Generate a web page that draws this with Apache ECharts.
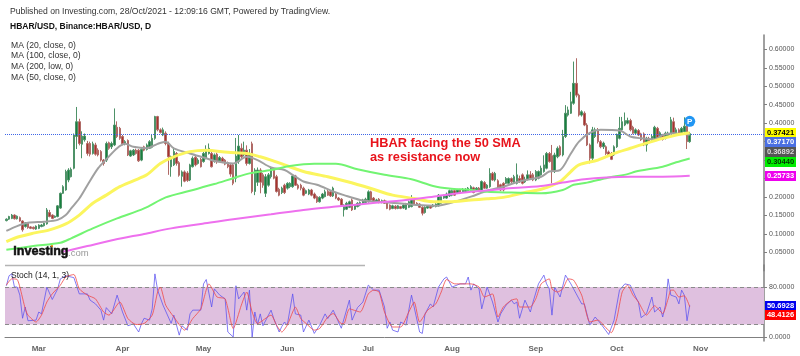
<!DOCTYPE html>
<html>
<head>
<meta charset="utf-8">
<style>html,body{margin:0;padding:0;background:#fff}#main{width:800px;height:356px}</style>
<script src="https://cdn.jsdelivr.net/npm/echarts@6/dist/echarts.min.js"></script>
</head>
<body>
<div id="main"></div>
<script>
// daily candles from 17 Feb 2021: [open, close, low, high]
var candles = [
[.136,.140,.134,.142],[.140,.147,.138,.149],[.142,.151,.140,.154],[.151,.141,.139,.153],[.141,.148,.139,.150],
[.144,.135,.133,.147],[.135,.111,.106,.137],[.120,.130,.117,.132],[.129,.117,.114,.131],[.119,.115,.113,.121],
[.118,.114,.112,.120],[.113,.121,.111,.123],[.115,.124,.113,.126],[.120,.124,.118,.127],[.122,.129,.120,.131],
[.127,.165,.125,.170],[.158,.147,.145,.165],[.151,.142,.140,.153],[.145,.148,.143,.150],[.147,.176,.145,.178],
[.170,.210,.168,.212],[.210,.228,.208,.232],[.219,.269,.217,.274],[.246,.273,.240,.278],[.255,.275,.253,.280],
[.278,.368,.275,.372],[.364,.404,.330,.444],[.404,.345,.340,.412],[.343,.365,.305,.378],[.355,.365,.350,.372],
[.345,.318,.312,.352],[.345,.316,.310,.350],[.318,.344,.315,.350],[.341,.316,.312,.347],[.327,.314,.310,.332],
[.323,.300,.296,.327],[.300,.291,.285,.303],[.300,.345,.295,.350],[.347,.332,.328,.350],[.336,.345,.330,.350],
[.341,.395,.338,.440],[.389,.364,.360,.405],[.386,.359,.355,.390],[.364,.344,.340,.368],[.344,.350,.340,.354],
[.353,.314,.311,.356],[.311,.325,.309,.328],[.314,.327,.311,.330],[.327,.318,.315,.331],[.327,.298,.295,.330],
[.300,.329,.297,.332],[.336,.327,.324,.339],[.329,.341,.326,.345],[.332,.350,.330,.354],[.335,.359,.332,.368],
[.359,.418,.355,.420],[.418,.382,.378,.420],[.382,.375,.372,.386],[.368,.382,.365,.388],[.373,.345,.340,.378],
[.345,.309,.260,.350],[.282,.309,.255,.312],[.287,.323,.284,.335],[.318,.291,.285,.322],[.293,.259,.255,.297],
[.256,.268,.228,.272],[.268,.243,.240,.272],[.265,.245,.241,.270],[.246,.287,.243,.290],[.282,.305,.280,.310],
[.308,.287,.283,.312],[.291,.300,.288,.305],[.302,.282,.280,.306],[.296,.318,.293,.322],[.305,.329,.302,.340],
[.318,.332,.315,.345],[.318,.282,.280,.322],[.296,.314,.293,.318],[.316,.296,.290,.320],[.298,.307,.295,.311],
[.305,.296,.292,.309],[.300,.289,.286,.303],[.293,.282,.278,.296],[.287,.262,.255,.290],[.287,.237,.232,.290],
[.251,.311,.240,.360],[.296,.338,.290,.368],[.332,.309,.305,.345],[.314,.327,.310,.350],[.327,.291,.285,.340],
[.291,.318,.288,.330],[.344,.215,.210,.350],[.215,.273,.205,.278],[.240,.273,.230,.280],[.273,.240,.210,.278],
[.260,.232,.225,.265],[.210,.255,.200,.262],[.232,.260,.228,.265],[.255,.278,.250,.282],[.273,.251,.248,.278],
[.255,.215,.212,.260],[.221,.205,.202,.225],[.212,.224,.208,.228],[.232,.212,.208,.236],[.224,.237,.220,.240],
[.228,.237,.224,.240],[.228,.257,.225,.260],[.257,.232,.230,.260],[.232,.224,.220,.236],[.232,.224,.218,.236],
[.224,.205,.202,.228],[.210,.217,.208,.220],[.208,.219,.205,.222],[.219,.205,.202,.222],[.208,.197,.194,.212],
[.201,.187,.184,.204],[.187,.199,.185,.202],[.197,.208,.194,.211],[.201,.214,.199,.220],[.215,.205,.203,.219],
[.214,.203,.200,.218],[.203,.224,.200,.228],[.208,.197,.194,.212],[.197,.192,.189,.200],[.194,.178,.175,.197],
[.165,.178,.147,.180],[.167,.183,.165,.187],[.172,.187,.170,.190],[.192,.165,.162,.196],[.167,.178,.165,.181],
[.174,.183,.172,.186],[.178,.185,.175,.188],[.183,.192,.180,.195],[.185,.194,.183,.198],[.187,.214,.185,.218],
[.214,.192,.190,.217],[.197,.187,.184,.200],[.187,.192,.185,.195],[.194,.185,.183,.197],[.185,.190,.183,.193],
[.190,.183,.181,.193],[.187,.169,.167,.190],[.178,.167,.164,.180],[.169,.176,.167,.179],[.175,.169,.166,.178],
[.169,.176,.167,.178],[.174,.169,.167,.176],[.170,.178,.168,.180],[.167,.181,.165,.184],[.172,.187,.170,.190],
[.174,.197,.172,.205],[.192,.181,.178,.195],[.183,.178,.176,.186],[.181,.172,.170,.183],[.172,.156,.150,.175],
[.158,.172,.155,.175],[.170,.176,.168,.178],[.176,.170,.168,.178],[.174,.178,.172,.181],[.174,.181,.172,.183],
[.176,.205,.174,.208],[.183,.201,.181,.205],[.197,.203,.195,.206],[.197,.208,.195,.212],[.203,.217,.200,.220],
[.205,.217,.202,.220],[.217,.205,.203,.220],[.210,.219,.208,.222],[.219,.210,.208,.222],[.214,.221,.212,.224],
[.215,.221,.213,.224],[.217,.224,.215,.227],[.217,.228,.215,.232],[.225,.212,.210,.228],[.217,.224,.215,.227],
[.224,.217,.215,.227],[.217,.242,.215,.245],[.239,.224,.222,.243],[.224,.232,.222,.235],[.228,.264,.225,.278],
[.264,.246,.244,.268],[.246,.264,.242,.268],[.244,.224,.220,.248],[.233,.219,.216,.236],[.237,.219,.215,.240],
[.237,.250,.235,.254],[.237,.250,.234,.253],[.250,.241,.238,.253],[.240,.255,.237,.260],[.237,.260,.234,.291],
[.250,.241,.238,.258],[.260,.237,.234,.264],[.241,.248,.238,.255],[.248,.260,.245,.272],[.260,.251,.248,.270],
[.260,.246,.243,.265],[.246,.269,.243,.273],[.251,.269,.248,.272],[.260,.278,.258,.285],[.269,.287,.266,.313],
[.278,.318,.275,.322],[.318,.296,.293,.322],[.312,.269,.237,.341],[.269,.314,.265,.320],[.309,.332,.305,.337],
[.336,.314,.310,.340],[.314,.364,.310,.382],[.364,.427,.360,.449],[.422,.436,.418,.445],[.427,.458,.425,.485],
[.454,.508,.450,.567],[.508,.476,.470,.576],[.476,.422,.418,.480],[.422,.431,.418,.435],[.427,.395,.392,.432],
[.395,.341,.338,.400],[.341,.305,.291,.345],[.305,.382,.300,.390],[.364,.382,.360,.388],[.383,.350,.345,.387],
[.350,.336,.332,.354],[.336,.346,.330,.350],[.336,.318,.314,.340],[.322,.313,.310,.326],[.318,.302,.300,.322],
[.314,.336,.311,.340],[.336,.368,.333,.372],[.359,.386,.356,.417],[.382,.404,.379,.417],[.395,.407,.392,.429],
[.400,.407,.397,.415],[.407,.382,.378,.412],[.389,.373,.370,.393],[.373,.382,.370,.386],[.380,.368,.365,.384],
[.371,.355,.352,.374],[.371,.341,.338,.375],[.341,.359,.323,.363],[.359,.347,.344,.363],[.355,.364,.352,.368],
[.359,.389,.356,.393],[.386,.359,.356,.390],[.359,.374,.356,.378],[.367,.356,.353,.371],[.359,.373,.356,.377],
[.364,.373,.361,.377],[.373,.409,.370,.417],[.404,.373,.370,.415],[.373,.382,.370,.388],[.382,.373,.370,.386],
[.373,.386,.370,.390],[.377,.392,.374,.416],[.392,.350,.330,.410],[.350,.3717,.347,.376]
];

// moving averages, read at the bends only: [day index, price]
var ma20 = [[0,.108],[4,.121],[8,.130],[14,.133],[19,.138],[22,.151],[24,.169],[27,.196],[30,.232],[34,.278],[37,.302],[41,.332],[44,.344],[47,.336],[52,.332],[56,.344],[59,.350],[62,.332],[68,.318],[74,.305],[78,.296],[84,.291],[89,.309],[93,.300],[98,.280],[103,.273],[106,.260],[110,.242],[115,.233],[121,.215],[125,.205],[131,.192],[137,.187],[145,.183],[152,.178],[159,.176],[164,.183],[172,.201],[178,.217],[184,.228],[190,.242],[198,.255],[201,.269],[205,.273],[209,.318],[212,.350],[216,.374],[220,.382],[227,.380],[231,.364],[235,.359],[240,.356],[243,.368],[247,.373],[253,.36892]];
var ma50 = [[0,.079],[4,.091],[10,.102],[16,.111],[22,.127],[27,.151],[32,.183],[37,.205],[42,.228],[47,.244],[52,.260],[57,.291],[62,.309],[68,.323],[74,.327],[82,.321],[89,.318],[94,.309],[98,.300],[103,.287],[110,.269],[119,.255],[126,.242],[135,.223],[143,.205],[151,.196],[158,.187],[164,.187],[172,.192],[178,.195],[184,.199],[192,.212],[198,.221],[205,.242],[209,.269],[212,.287],[219,.300],[225,.318],[231,.332],[237,.346],[243,.359],[248,.368],[253,.37421]];
var ma100 = [[0,.057],[10,.067],[20,.076],[24,.088],[32,.115],[41,.142],[51,.169],[59,.199],[68,.217],[77,.235],[84,.251],[90,.264],[98,.273],[105,.284],[114,.290],[122,.290],[130,.275],[140,.260],[150,.248],[158,.230],[164,.223],[172,.219],[178,.214],[187,.212],[198,.210],[206,.219],[210,.233],[215,.239],[222,.251],[230,.262],[233,.269],[243,.282],[248,.294],[253,.3044]];
var ma200 = [[21,.052],[23,.055],[30,.067],[40,.084],[51,.100],[61,.115],[72,.127],[84,.140],[98,.153],[110,.165],[122,.174],[135,.183],[148,.192],[160,.203],[172,.214],[184,.222],[198,.230],[206,.239],[214,.248],[222,.253],[231,.255],[243,.255],[253,.25733]];

// stochastic, read at the bends: [day index, value]
var stochK = [[0,82],[1,98],[2,101],[3,80],[4,80],[5,67],[6,30],[7,48],[8,26],[11,27],[12,40],[13,37],[15,80],[17,60],[19,77],[20,93],[22,98],[25,95],[27,69],[30,69],[31,59],[33,53],[35,43],[36,27],[37,47],[39,37],[41,67],[43,40],[45,18],[47,21],[49,8],[50,21],[51,30],[53,27],[54,45],[55,101],[56,75],[58,51],[61,22],[62,35],[64,3],[65,18],[67,11],[68,37],[69,43],[72,43],[73,85],[74,92],[76,48],[77,77],[79,67],[81,61],[82,8],[84,0],[85,82],[86,61],[88,72],[89,43],[90,75],[91,0],[92,40],[93,20],[94,37],[95,18],[98,43],[99,29.5],[101,8],[102,17],[103,24],[104,19],[106,69],[107,37],[109,35],[110,8],[112,27],[114,5.7],[116,19],[118,37],[119,29.5],[121,43],[124,14],[127,59],[128,27],[130,47],[132,56],[134,83],[136,75],[138,75],[140,48],[141,14],[142,24],[143,11],[145,8],[146,24],[148,19],[150,67],[153,8],[154,5.7],[155,37],[157,53],[158,48],[160,80],[162,93],[163,96],[165,80],[168,85],[170,85],[171,96],[172,75],[173,85],[175,77],[176,45],[178,80],[180,56],[182,24],[183,37],[185,51],[187,59],[188,53],[189,56],[190,30],[192,59],[194,40],[195,56],[197,85],[199,99],[200,85],[201,77],[202,35],[203,80],[205,64],[207,99],[209,85],[211,69],[213,53],[214,53],[216,19],[218,32],[220,21.6],[223,4],[225,27],[227,75],[229,85],[231,83],[233,64],[234,56],[235,31],[237,37.5],[239,64],[240,40],[242,48],[243,32],[244,51],[245,93],[246,67],[248,64],[249,53],[250,75],[251,67],[252,26],[253,50.69]];
var stochD = [[0,83],[2,93],[4,92],[5,80],[7,45],[8,35],[11,24],[13,35],[15,56],[17,69],[20,83],[22,96],[25,100],[27,77],[30,67],[33,61],[36,40],[38,35],[42,56],[45,29.5],[48,20],[51,21.6],[54,35],[56,72],[57,80],[59,51],[62,32],[66,11],[69,29.5],[72,45],[75,85],[78,64],[81,61],[84,13.6],[87,51],[89,72],[91,40],[93,21.6],[98,35],[100,19],[102,8],[104,19],[106,40],[107,48],[109,29.5],[111,21.6],[114,11],[116,13.6],[119,32],[121,37.5],[124,21.6],[125,21.6],[127,45],[131,40],[134,69],[136,75],[138,72],[140,40],[143,16],[146,16],[149,40],[151,56],[153,24],[156,43],[159,53],[161,72],[163,92],[166,85],[169,85],[172,85],[175,80],[177,64],[180,69],[182,32],[184,48],[187,59],[189,61],[190,48],[193,48],[194,48],[196,61],[198,85],[201,93],[202,77],[204,72],[206,77],[208,93],[210,91],[213,67],[214,51],[216,24],[219,27],[222,14.7],[224,7],[226,29.5],[228,72],[230,83],[232,67],[234,56],[237,35],[240,50],[243,37.5],[245,61],[246,75],[247,75],[249,64],[251,66],[253,48.41]];

var lastPrice = 0.37421;
var stochBand = [20, 80];
var tagText = ['0.37421', '0.37170', '0.36892', '0.30440', '0.25733', '50.6928', '48.4126'];
var tagBack = ['#ffff00', '#4a6fe3', '#555555', '#00ee00', '#ee00ee', '#0000ee', '#ff0000'];
var tagFore = ['#000000', '#ffffff', '#dddddd', '#003300', '#ffffff', '#ffffff', '#ffffff'];
var tagMid = [133, 142, 152, 162, 176, 306, 315];
var maLabels = ['MA (20, close, 0)', 'MA (100, close, 0)', 'MA (200, low, 0)', 'MA (50, close, 0)'];

var monthNames = ['Jan', 'Feb', 'Mar', 'Apr', 'May', 'Jun', 'Jul', 'Aug', 'Sep', 'Oct', 'Nov', 'Dec'];
var days = [];
for (var d = 0; d < 281; d++) {
  var day = new Date(Date.UTC(2021, 1, 17 + d));
  days.push(day.getUTCDate() + ' ' + monthNames[day.getUTCMonth()]);
}
function isFirst(i, name) { return name.indexOf('1 ') === 0; }

var font = '"Liberation Sans", Arial, sans-serif';
var axisGray = '#808080';

var graphics = [
  { type: 'text', left: 10, top: 7, style: { text: 'Published on Investing.com, 28/Oct/2021 - 12:09:16 GMT, Powered by TradingView.', font: '8.6px ' + font, fill: '#333' } },
  { type: 'text', left: 10, top: 22, style: { text: 'HBAR/USD, Binance:HBAR/USD, D', font: 'bold 8.5px ' + font, fill: '#111' } },
  { type: 'text', left: 370, top: 136.5, z: 20, style: { text: 'HBAR facing the 50 SMA', font: 'bold 12.8px ' + font, fill: '#e8141c' } },
  { type: 'text', left: 370, top: 151, z: 20, style: { text: 'as resistance now', font: 'bold 12.8px ' + font, fill: '#e8141c' } },
  { type: 'text', left: 13, top: 245, z: 20, style: { text: 'Investing', font: 'bold 12.6px ' + font, fill: '#111', stroke: '#111', lineWidth: 0.5 } },
  { type: 'text', left: 68, top: 248, z: 20, style: { text: '.com', font: '9.5px ' + font, fill: '#999' } },
  { type: 'circle', z: 21, shape: { cx: 52, cy: 246, r: 1 }, style: { fill: '#f08a00' } },
  { type: 'line', z: 20, shape: { x1: 5, y1: 265.5, x2: 365, y2: 265.5 }, style: { stroke: '#b4b4b4', lineWidth: 1.5 } },
  { type: 'text', left: 11, top: 271.5, z: 20, style: { text: 'Stoch (14, 1, 3)', font: '8.5px ' + font, fill: '#222' } }
];
maLabels.forEach(function (t, i) {
  graphics.push({ type: 'text', left: 11, top: 41 + i * 10.6, style: { text: t, font: '8.6px ' + font, fill: '#333' } });
});
tagText.forEach(function (t, i) {
  graphics.push({ type: 'rect', z: 30, shape: { x: 765, y: tagMid[i] - 5, width: 31, height: 10 }, style: { fill: tagBack[i] } });
  graphics.push({ type: 'text', z: 31, x: 780.5, y: tagMid[i], style: { text: t, font: 'bold 7.5px ' + font, fill: tagFore[i], align: 'center', verticalAlign: 'middle' } });
});

var myChart = echarts.init(document.getElementById('main'), null, { renderer: 'canvas' });

function maSeries(data, color, width) {
  return {
    type: 'line', xAxisIndex: 0, yAxisIndex: 0, data: data, showSymbol: false, smooth: 0.3,
    lineStyle: { color: color, width: width }, z: 5, silent: true
  };
}

var option = {
  animation: false,
  backgroundColor: '#fff',
  graphic: graphics,
  grid: [
    { left: 5, right: 36, top: 35, height: 235.8 },
    { left: 5, right: 36, top: 265, height: 76 }
  ],
  xAxis: [
    { type: 'category', gridIndex: 0, data: days, show: false },
    {
      type: 'category', gridIndex: 1, data: days,
      axisLine: { lineStyle: { color: axisGray, width: 1 } },
      axisTick: { interval: isFirst, alignWithLabel: true, length: 3, lineStyle: { color: axisGray } },
      axisLabel: {
        interval: isFirst, margin: 4, fontSize: 8, fontFamily: font, color: '#666', fontWeight: 'bold',
        formatter: function (v) { return v.split(' ')[1]; }
      }
    }
  ],
  yAxis: [
    {
      type: 'value', gridIndex: 0, position: 'right', min: 0, max: 0.639, interval: 0.05,
      splitLine: { show: false },
      axisLine: { show: true, onZero: false, lineStyle: { color: axisGray, width: 1.5 } },
      axisTick: { show: true, length: 3, lineStyle: { color: axisGray } },
      axisLabel: { showMinLabel: false, showMaxLabel: false, margin: 5, fontSize: 7, fontFamily: font, color: '#555', formatter: function (v) { return v.toFixed(5); } }
    },
    {
      type: 'value', gridIndex: 1, position: 'right', min: -6.4, max: 115.2,
      splitLine: { show: false },
      axisLine: { show: true, onZero: false, lineStyle: { color: axisGray, width: 1.5 } },
      axisTick: { show: true, length: 3, customValues: [0, 80], lineStyle: { color: axisGray } },
      axisLabel: { customValues: [0, 80], margin: 5, fontSize: 7, fontFamily: font, color: '#555', formatter: function (v) { return v.toFixed(4); } }
    }
  ],
  series: [
    {
      type: 'candlestick', xAxisIndex: 0, yAxisIndex: 0, data: candles, barWidth: 2, z: 3, silent: true,
      itemStyle: { color: '#17803f', color0: '#a8322e', borderColor: '#4e9268', borderColor0: '#b06a66', borderWidth: 1 },
      markLine: {
        silent: true, symbol: 'none', label: { show: false },
        lineStyle: { color: '#3f66e8', type: 'dotted', width: 1 },
        data: [{ yAxis: lastPrice }]
      },
      markPoint: {
        silent: true, symbol: 'circle', symbolSize: 11,
        itemStyle: { color: '#2196f3' },
        label: { show: true, formatter: 'P', color: '#fff', fontSize: 8, fontWeight: 'bold', fontFamily: font },
        data: [{ coord: [days[253], 0.405] }]
      }
    },
    maSeries(ma20, '#a0a0a0', 2),
    maSeries(ma50, '#fbf55e', 3),
    maSeries(ma100, '#72f472', 2),
    maSeries(ma200, '#ee70ee', 2),
    {
      type: 'line', xAxisIndex: 1, yAxisIndex: 1, data: stochK, showSymbol: false, z: 4, silent: true,
      lineStyle: { color: '#5a50f0', width: 1, opacity: 0.75 },
      markArea: {
        silent: true, itemStyle: { color: '#dfc0df' },
        data: [[{ yAxis: stochBand[0] }, { yAxis: stochBand[1] }]]
      },
      markLine: {
        silent: true, symbol: 'none', label: { show: false },
        lineStyle: { color: '#8a8a8a', type: [4, 3], width: 1.2 },
        data: [{ yAxis: stochBand[0] }, { yAxis: stochBand[1] }]
      }
    },
    {
      type: 'line', xAxisIndex: 1, yAxisIndex: 1, data: stochD, showSymbol: false, z: 5, silent: true,
      smooth: 0.2, lineStyle: { color: '#f04848', width: 1, opacity: 0.8 }
    }
  ]
};

myChart.setOption(option);
</script>
</body>
</html>
